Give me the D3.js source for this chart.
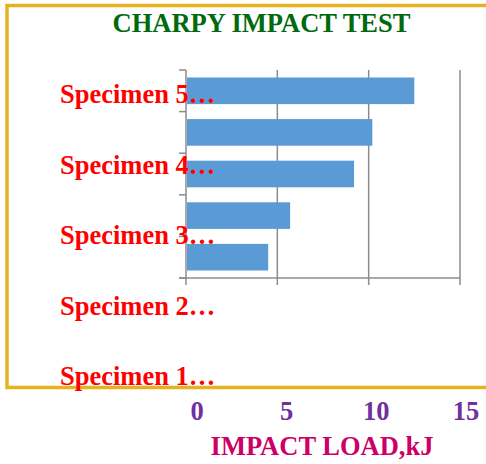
<!DOCTYPE html>
<html><head><meta charset="utf-8">
<script src="https://cdn.jsdelivr.net/npm/d3@7"></script>
<style>html,body{margin:0;padding:0;background:#fff;}svg{display:block;}</style>
</head><body>
<script>
const categories = ["Specimen 1", "Specimen 2", "Specimen 3", "Specimen 4", "Specimen 5"];
const categoryLabels = ["Specimen 1…", "Specimen 2…", "Specimen 3…", "Specimen 4…", "Specimen 5…"];
const impactLoad = [4.5, 5.7, 9.2, 10.2, 12.5];
const xTicks = [0, 5, 10, 15];
const title = "CHARPY IMPACT TEST";
const xTitle = "IMPACT LOAD,kJ";

const W = 486, H = 464;
const svg = d3.select("body").append("svg").attr("width", W).attr("height", H);
const serif = "'Liberation Serif','Times New Roman',serif";

// frame
svg.append("path")
  .attr("d", "M 492 5.5 H 7 V 387.5 H 492")
  .attr("fill", "none").attr("stroke", "#E6B21F").attr("stroke-width", 3.5);

// scales
const x = d3.scaleLinear().domain([0, 15]).range([186, 460]);
const y = d3.scaleBand().domain(categories.slice().reverse()).range([70, 278]).paddingInner(0.36).paddingOuter(0.18);
const yLine = d3.scaleBand().domain(categories.slice().reverse()).range([70, 278]);

const g = svg.append("g");
// gridlines
g.selectAll(".grid").data(xTicks.slice(1)).join("line")
  .attr("x1", d => x(d)).attr("x2", d => x(d))
  .attr("y1", 70).attr("y2", 285)
  .attr("stroke", "#8c8c8c").attr("stroke-width", 1.5);

// x axis line + ticks
g.append("line").attr("x1", 179).attr("x2", x(15)).attr("y1", 278).attr("y2", 278)
  .attr("stroke", "#8c8c8c").attr("stroke-width", 1.5);
g.append("line").attr("x1", x(0)).attr("x2", x(0)).attr("y1", 70).attr("y2", 285)
  .attr("stroke", "#8c8c8c").attr("stroke-width", 1.5);
// y ticks
const yTickPos = categories.map(c => yLine(c)).concat([278]);
g.selectAll(".ytick").data(yTickPos).join("line")
  .attr("x1", 179).attr("x2", x(0)).attr("y1", d => d).attr("y2", d => d)
  .attr("stroke", "#8c8c8c").attr("stroke-width", 1.5);

// bars
g.selectAll(".bar").data(categories).join("rect")
  .attr("x", x(0) + 1)
  .attr("y", c => y(c))
  .attr("width", (c, i) => x(impactLoad[i]) - x(0) - 1)
  .attr("height", y.bandwidth())
  .attr("fill", "#5B9BD5");

// title
svg.append("text").attr("x", 261.5).attr("y", 32).attr("text-anchor", "middle")
  .attr("font-family", serif).attr("font-weight", "bold").attr("font-size", 26.5)
  .attr("fill", "#006A0E").text(title);

// category labels (displaced overlay)
const yLab = d3.scalePoint().domain(categories.slice().reverse()).range([103, 385]);
svg.selectAll(".lab").data(categories).join("text")
  .attr("x", 60).attr("y", c => yLab(c))
  .attr("font-family", serif).attr("font-weight", "bold").attr("font-size", 26.5)
  .attr("fill", "#FF0000").text((c, i) => categoryLabels[i]);

// x tick labels (displaced overlay)
const xLab = d3.scaleLinear().domain([0, 15]).range([197, 466]);
svg.selectAll(".xl").data(xTicks).join("text")
  .attr("x", d => xLab(d)).attr("y", 420).attr("text-anchor", "middle")
  .attr("font-family", serif).attr("font-weight", "bold").attr("font-size", 26.5)
  .attr("fill", "#7030A0").text(d => d);

svg.append("text").attr("x", 322).attr("y", 455).attr("text-anchor", "middle")
  .attr("font-family", serif).attr("font-weight", "bold").attr("font-size", 26.5)
  .attr("fill", "#CC0066").text(xTitle);
</script>
</body></html>
